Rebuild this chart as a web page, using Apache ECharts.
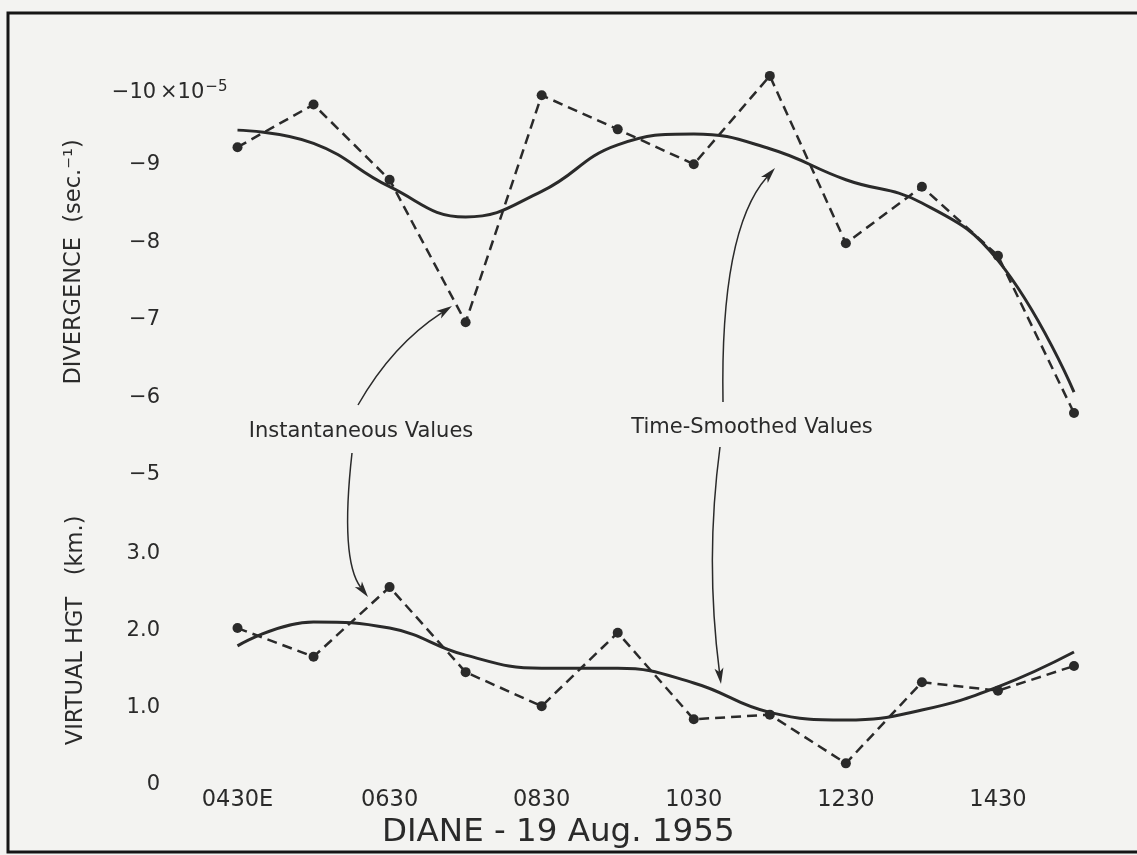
<!DOCTYPE html>
<html>
<head>
<meta charset="utf-8">
<script src="https://cdn.jsdelivr.net/npm/echarts@6/dist/echarts.min.js"></script>
<style>
  html, body { margin: 0; padding: 0; background: #f3f3f1; }
  #chart { width: 1137px; height: 855px; }
</style>
</head>
<body>
<div id="chart"></div>
<script>
// hourly readings, 0430E .. 1530E
var hours = ['0430', '0530', '0630', '0730', '0830', '0930', '1030', '1130', '1230', '1330', '1430', '1530'];

// divergence (x10^-5 sec^-1)
var divInst = [-9.23, -9.78, -8.81, -6.97, -9.90, -9.46, -9.01, -10.15, -7.99, -8.72, -7.83, -5.80];
var divSmooth = [-9.45, -9.28, -8.72, -8.33, -8.66, -9.26, -9.40, -9.21, -8.81, -8.51, -7.77, -6.07];

// virtual height (km)
var hgtInst = [2.03, 1.66, 2.56, 1.46, 1.02, 1.97, 0.85, 0.91, 0.28, 1.33, 1.22, 1.54];
var hgtSmooth = [1.80, 2.11, 2.03, 1.68, 1.51, 1.51, 1.32, 0.94, 0.84, 0.97, 1.27, 1.72];

// the printed -10 label sits a touch below its level, so it is placed at -9.93
var divTicks = [-9.93, -9, -8, -7, -6, -5];
var hgtTicks = [0, 1, 2, 3];

var ink = '#2a2a2a';
var font = 'DejaVu Sans';

var myChart = echarts.init(document.getElementById('chart'));

// curved arrow: quadratic curve + filled head
function arrow(x1, y1, cx, cy, x2, y2) {
	var dx = x2 - cx, dy = y2 - cy;
	var len = Math.sqrt(dx * dx + dy * dy);
	var ux = dx / len, uy = dy / len;
	var hl = 16, hw = 4.5;
	var bx = x2 - ux * hl, by = y2 - uy * hl;
	return [{
		type: 'bezierCurve',
		shape: { x1: x1, y1: y1, cpx1: cx, cpy1: cy, x2: bx + ux * 4, y2: by + uy * 4 },
		style: { stroke: ink, lineWidth: 1.5, fill: null }
	}, {
		type: 'polygon',
		shape: { points: [[x2, y2], [bx - uy * hw, by + ux * hw], [bx + ux * 4, by + uy * 4], [bx + uy * hw, by - ux * hw]] },
		style: { fill: ink }
	}];
}

var labelRich = {
	n: { width: 52, align: 'right', fontSize: 21, lineHeight: 21, fontFamily: font, color: ink, verticalAlign: 'bottom' },
	x: { fontSize: 21, lineHeight: 21, fontFamily: font, color: ink, verticalAlign: 'bottom' },
	e: { fontSize: 15, lineHeight: 15, fontFamily: font, color: ink, padding: [0, 0, 9, 1], verticalAlign: 'bottom' }
};

var option = {
	backgroundColor: '#f3f3f1',
	animation: false,
	title: {
		text: 'DIANE - 19 Aug. 1955',
		left: 382,
		top: 816,
		padding: 0,
		textStyle: { fontFamily: font, fontWeight: 'normal', fontSize: 32.5, color: ink }
	},
	grid: [
		{ left: 237.5, right: 63, top: 48.75, bottom: 380 },
		{ left: 237.5, right: 63, top: 475.8, bottom: 70 }
	],
	xAxis: [{
		type: 'category',
		gridIndex: 0,
		data: hours,
		boundaryGap: false,
		show: false
	}, {
		type: 'category',
		gridIndex: 1,
		data: hours,
		boundaryGap: false,
		axisLine: { show: false },
		axisTick: { show: false },
		axisLabel: {
			interval: 1,
			margin: 4,
			fontSize: 22.5,
			fontFamily: font,
			color: ink,
			formatter: function(v, i) {
				return i === 0 ? v + 'E' : v;
			}
		}
	}],
	yAxis: [{
		type: 'value',
		gridIndex: 0,
		inverse: true,
		min: -10.5,
		max: -5,
		splitLine: { show: false },
		axisLine: { show: false },
		axisTick: { show: false },
		name: 'DIVERGENCE  (sec.⁻¹)',
		nameLocation: 'middle',
		nameRotate: 90,
		nameGap: 152,
		nameTextStyle: { fontFamily: font, fontSize: 22.5, color: ink },
		axisLabel: {
			customValues: divTicks,
			align: 'left',
			margin: 129.5,
			rich: labelRich,
			formatter: function(v) {
				var r = Math.round(v);
				var s = '−' + Math.abs(r);
				if (r === -10) return '{n|' + s + '}{x|×10}{e|−5}';
				return '{n|' + s + '}';
			}
		}
	}, {
		type: 'value',
		gridIndex: 1,
		min: 0,
		max: 4,
		splitLine: { show: false },
		axisLine: { show: false },
		axisTick: { show: false },
		name: 'VIRTUAL HGT   (km.)',
		nameLocation: 'middle',
		nameRotate: 90,
		nameGap: 150,
		nameTextStyle: { fontFamily: font, fontSize: 22.5, color: ink },
		axisLabel: {
			customValues: hgtTicks,
			align: 'left',
			margin: 129.5,
			rich: labelRich,
			formatter: function(v) {
				return '{n|' + (v === 0 ? '0' : v.toFixed(1)) + '}';
			}
		}
	}],
	series: [{
		name: 'Instantaneous Values',
		type: 'line',
		xAxisIndex: 0,
		yAxisIndex: 0,
		data: divInst,
		symbol: 'circle',
		symbolSize: 10,
		itemStyle: { color: ink },
		lineStyle: { color: ink, width: 2.5, type: [10, 6] }
	}, {
		name: 'Time-Smoothed Values',
		type: 'line',
		xAxisIndex: 0,
		yAxisIndex: 0,
		data: divSmooth,
		smooth: 0.45,
		showSymbol: false,
		lineStyle: { color: ink, width: 3 }
	}, {
		name: 'Instantaneous Values',
		type: 'line',
		xAxisIndex: 1,
		yAxisIndex: 1,
		data: hgtInst,
		symbol: 'circle',
		symbolSize: 10,
		itemStyle: { color: ink },
		lineStyle: { color: ink, width: 2.5, type: [10, 6] }
	}, {
		name: 'Time-Smoothed Values',
		type: 'line',
		xAxisIndex: 1,
		yAxisIndex: 1,
		data: hgtSmooth,
		smooth: 0.45,
		showSymbol: false,
		lineStyle: { color: ink, width: 3 }
	}],
	graphic: [{
		type: 'rect',
		shape: { x: 8, y: 13, width: 1160, height: 839 },
		style: { stroke: '#151515', lineWidth: 3, fill: null },
		silent: true
	}, {
		type: 'text',
		x: 361, y: 432,
		style: { text: 'Instantaneous Values', fontFamily: font, fontSize: 21, fill: ink, align: 'center', verticalAlign: 'middle' }
	}, {
		type: 'text',
		x: 752, y: 428,
		style: { text: 'Time-Smoothed Values', fontFamily: font, fontSize: 21, fill: ink, align: 'center', verticalAlign: 'middle' }
	}]
		.concat(arrow(358, 405, 392, 345, 452, 306))
		.concat(arrow(352, 453, 340, 560, 368, 597))
		.concat(arrow(723, 402, 720, 230, 775, 168))
		.concat(arrow(720, 447, 705, 560, 721, 684))
};

myChart.setOption(option);
</script>
</body>
</html>
